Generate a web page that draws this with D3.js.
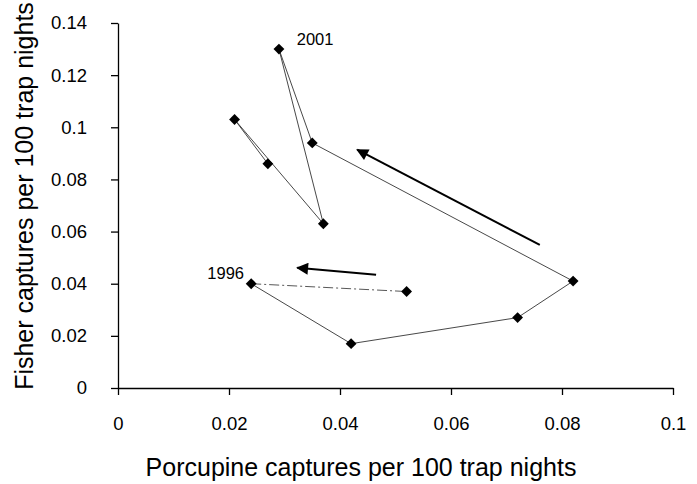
<!DOCTYPE html>
<html>
<head>
<meta charset="utf-8">
<script src="https://cdn.jsdelivr.net/npm/d3@7"></script>
<style>
  body { margin: 0; background: #fff; }
  svg text { font-family: "Liberation Sans", Arial, sans-serif; fill: #000; }
</style>
</head>
<body>
<svg id="chart" width="697" height="484"></svg>
<script>
// yearly path, 1996 -> 2001 -> later
const porcupine = [0.024, 0.042, 0.072, 0.082, 0.035, 0.029, 0.037, 0.021, 0.027];
const fisher    = [0.040, 0.017, 0.027, 0.041, 0.094, 0.130, 0.063, 0.103, 0.086];

// separate dash-dot segment from the 1996 point
const dashPorcupine = [0.024, 0.052];
const dashFisher    = [0.040, 0.037];

// direction arrows [x1, y1, x2, y2] in data units
const arrows = [
  [0.076, 0.0549, 0.0431, 0.0914],
  [0.0465, 0.0434, 0.0323, 0.0461]
];

const yearLabels = [
  { text: '2001', x: 0.0322, y: 0.1315 },
  { text: '1996', x: 0.0161, y: 0.0418 }
];

const xTicks = [0, 0.02, 0.04, 0.06, 0.08, 0.1];
const yTicks = [0, 0.02, 0.04, 0.06, 0.08, 0.1, 0.12, 0.14];

const svg = d3.select('#chart');
const x = d3.scaleLinear().domain([0, 0.1]).range([118, 673]);
const y = d3.scaleLinear().domain([0, 0.14]).range([388, 23]);

const fmt = d => d === 0 ? '0' : String(+d.toFixed(2));

// axes
svg.append('g').attr('transform', 'translate(0,388)')
  .call(d3.axisBottom(x).tickValues(xTicks).tickFormat(fmt).tickSize(7).tickPadding(22).tickSizeOuter(0));
svg.append('g').attr('transform', 'translate(118,0)')
  .call(d3.axisLeft(y).tickValues(yTicks).tickFormat(fmt).tickSize(7).tickPadding(24).tickSizeOuter(0));
svg.selectAll('.tick text')
  .style('font-size', '18.5px')
  .style('font-family', '"Liberation Sans", Arial, sans-serif');
svg.selectAll('.domain, .tick line').attr('stroke', '#000').attr('stroke-width', 1.3);

svg.append('text')
  .attr('x', 361).attr('y', 476)
  .attr('text-anchor', 'middle').style('font-size', '25px')
  .text('Porcupine captures per 100 trap nights');
svg.append('text')
  .attr('transform', 'translate(33,196) rotate(-90)')
  .attr('text-anchor', 'middle').style('font-size', '25px')
  .text('Fisher captures per 100 trap nights');

// connecting lines
const pts = porcupine.map((v, i) => [v, fisher[i]]);
const line = d3.line().x(d => x(d[0])).y(d => y(d[1]));
svg.append('path').datum(pts)
  .attr('d', line).attr('fill', 'none')
  .attr('stroke', '#333').attr('stroke-width', 0.9);

svg.append('path').datum(dashPorcupine.map((v, i) => [v, dashFisher[i]]))
  .attr('d', line).attr('fill', 'none')
  .attr('stroke', '#444').attr('stroke-width', 0.9)
  .attr('stroke-dasharray', '10,3,2,3');

// diamond markers
const diamond = d3.symbol().type(d3.symbolDiamond2).size(75);
svg.selectAll('.pt')
  .data(pts.concat([[dashPorcupine[1], dashFisher[1]]]))
  .join('path')
  .attr('class', 'pt')
  .attr('d', diamond)
  .attr('transform', d => `translate(${x(d[0])},${y(d[1])})`)
  .attr('fill', '#000');

// arrows
svg.append('defs').append('marker')
  .attr('id', 'head')
  .attr('viewBox', '0 0 10 10')
  .attr('refX', 9).attr('refY', 5)
  .attr('markerWidth', 7).attr('markerHeight', 6)
  .attr('markerUnits', 'strokeWidth')
  .attr('orient', 'auto')
  .append('path').attr('d', 'M0,0 L10,5 L0,10 Z').attr('fill', '#000');

svg.selectAll('.arrow')
  .data(arrows)
  .join('line')
  .attr('class', 'arrow')
  .attr('x1', d => x(d[0])).attr('y1', d => y(d[1]))
  .attr('x2', d => x(d[2])).attr('y2', d => y(d[3]))
  .attr('stroke', '#000').attr('stroke-width', 2)
  .attr('marker-end', 'url(#head)');

// year labels
svg.selectAll('.year')
  .data(yearLabels)
  .join('text')
  .attr('class', 'year')
  .attr('x', d => x(d.x)).attr('y', d => y(d.y))
  .style('font-size', '16.5px')
  .text(d => d.text);
</script>
</body>
</html>
